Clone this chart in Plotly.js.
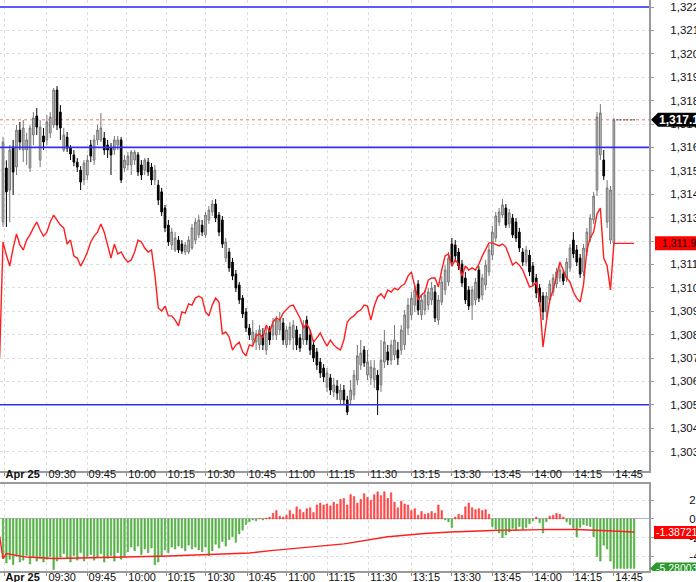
<!DOCTYPE html>
<html>
<head>
<meta charset="utf-8">
<script src="https://cdn.plot.ly/plotly-3.0.1.min.js"></script>
<style>html,body{margin:0;padding:0;background:#fff;}#chart{width:696px;height:582px;}</style>
</head>
<body>
<div id="chart"></div>
<script>
// ---- data ----
const open = [
1312.81,1315.12,1314.18,1316.02,1315.16,1316.74,1315.89,1315.89,1315.12,1316.53,
1317.34,1315.46,1316.49,1316.32,1316.62,1316.96,1318.45,1317.51,1315.89,1316.44,
1315.97,1315.68,1315.37,1315.03,1314.61,1314.82,1316.10,1315.46,1316.32,1316.32,
1316.40,1316.10,1315.97,1315.89,1316.10,1316.32,1315.12,1315.25,1315.25,1315.46,
1315.68,1315.25,1315.03,1315.37,1315.16,1314.61,1314.39,1314.10,1313.41,1312.68,
1311.83,1311.62,1312.04,1311.87,1311.53,1311.53,1311.70,1312.04,1312.26,1312.68,
1312.26,1312.90,1313.24,1313.58,1313.11,1312.90,1311.27,1311.53,1311.10,1310.59,
1310.12,1309.56,1308.97,1308.28,1307.77,1307.68,1307.56,1307.98,1307.34,1308.20,
1307.98,1307.98,1308.20,1308.50,1307.56,1307.77,1307.86,1308.20,1307.86,1307.77,
1308.62,1307.98,1307.56,1307.26,1306.83,1306.57,1305.76,1306.15,1305.55,1305.80,
1305.21,1305.63,1305.21,1305.21,1305.42,1306.06,1306.70,1307.34,1306.27,1306.15,
1306.06,1306.27,1305.85,1306.83,1307.26,1306.91,1307.13,1307.34,1307.34,1307.56,
1308.28,1308.84,1309.26,1310.16,1308.84,1309.05,1309.26,1309.48,1309.82,1308.62,
1309.39,1309.91,1310.25,1311.87,1311.83,1311.53,1311.01,1310.42,1309.91,1309.26,
1309.48,1310.76,1309.69,1310.12,1310.68,1311.40,1312.13,1312.81,1313.11,1313.41,
1312.73,1312.98,1312.81,1312.38,1311.53,1311.10,1311.40,1310.93,1310.42,1309.99,
1309.65,1308.97,1309.48,1309.82,1310.16,1310.42,1310.59,1310.42,1310.85,1312.04,
1311.62,1311.27,1310.68,1311.53,1312.13,1312.90,1314.18,1315.68,1315.46,1312.81,
1312.04,1311.91,1317.18,1317.18,1317.18,1317.18,1317.18,1317.18];
const high = [
1316.45,1315.45,1316.10,1316.32,1316.96,1317.09,1317.17,1316.62,1316.96,1317.51,
1317.68,1317.17,1316.83,1317.38,1317.51,1318.54,1318.62,1317.81,1316.83,1316.66,
1316.10,1315.89,1315.55,1315.20,1315.46,1315.68,1316.32,1316.53,1316.96,1317.47,
1316.66,1316.32,1316.19,1316.49,1316.49,1316.44,1315.68,1315.80,1315.89,1315.89,
1315.80,1315.46,1315.55,1315.55,1315.33,1315.25,1314.61,1314.27,1313.54,1312.90,
1312.56,1312.38,1312.21,1312.04,1311.96,1312.21,1312.73,1312.98,1313.11,1312.90,
1313.24,1313.50,1313.75,1313.79,1313.24,1313.07,1312.13,1311.70,1311.27,1310.76,
1310.25,1309.69,1309.14,1308.45,1308.62,1308.20,1308.41,1308.28,1308.28,1308.37,
1308.71,1308.80,1308.97,1308.71,1308.37,1308.54,1308.62,1308.37,1308.03,1308.62,
1308.80,1308.20,1307.77,1307.43,1307.00,1306.74,1306.57,1306.32,1306.15,1306.06,
1305.89,1305.85,1305.38,1306.06,1306.49,1307.56,1307.77,1307.51,1307.34,1306.91,
1306.91,1306.49,1307.77,1308.20,1307.56,1307.77,1308.41,1307.69,1308.41,1309.05,
1309.56,1309.82,1310.12,1310.33,1309.69,1309.91,1309.99,1310.25,1310.12,1309.69,
1310.50,1310.97,1311.53,1312.13,1312.04,1311.70,1311.19,1310.68,1310.08,1310.08,
1310.42,1310.93,1310.59,1311.19,1311.83,1312.64,1313.24,1313.41,1313.79,1313.58,
1313.37,1313.15,1312.98,1312.56,1311.70,1311.79,1311.62,1311.10,1310.59,1310.16,
1309.82,1309.82,1310.33,1310.59,1310.85,1311.01,1310.76,1311.27,1311.87,1312.38,
1311.83,1311.45,1311.87,1312.56,1313.15,1314.10,1317.51,1317.85,1315.89,1314.61,
1314.35,1317.26,1317.18,1317.18,1317.18,1317.18,1317.18,1317.18];
const low = [
1312.60,1312.60,1312.80,1313.97,1314.82,1315.89,1315.37,1315.25,1314.95,1316.10,
1316.53,1315.16,1315.89,1316.10,1316.40,1316.83,1316.74,1316.32,1315.80,1315.80,
1315.46,1315.20,1314.95,1314.18,1314.39,1314.61,1315.37,1315.25,1316.10,1316.23,
1315.68,1315.55,1314.82,1315.68,1315.89,1314.48,1314.95,1315.03,1314.82,1315.25,
1314.78,1314.61,1314.82,1314.78,1314.39,1314.39,1313.54,1313.07,1312.38,1311.79,
1311.62,1311.53,1311.49,1311.45,1311.40,1311.45,1311.62,1311.87,1312.13,1312.21,
1312.13,1312.73,1313.07,1312.81,1312.21,1311.70,1311.10,1310.68,1310.33,1309.82,
1309.31,1308.71,1308.11,1307.77,1307.56,1307.34,1307.34,1307.34,1307.13,1307.56,
1307.77,1307.77,1307.98,1307.56,1307.43,1307.56,1307.34,1307.34,1307.26,1307.56,
1307.56,1307.13,1306.83,1306.49,1306.15,1305.97,1305.55,1305.42,1305.33,1305.21,
1304.99,1304.99,1304.56,1304.99,1305.21,1305.85,1306.49,1306.62,1306.06,1305.85,
1305.72,1304.56,1305.55,1306.57,1306.70,1306.70,1306.91,1306.70,1307.13,1307.34,
1307.98,1308.62,1308.97,1308.84,1308.62,1308.84,1309.05,1309.26,1308.54,1308.41,
1309.26,1309.69,1310.08,1310.93,1311.10,1310.76,1310.04,1309.31,1309.05,1308.62,
1309.26,1309.39,1309.48,1309.91,1310.50,1311.19,1311.96,1312.64,1312.98,1312.56,
1312.56,1312.13,1311.96,1311.53,1310.93,1310.93,1310.50,1310.08,1309.56,1309.22,
1308.62,1308.71,1309.31,1309.65,1309.99,1310.25,1310.12,1310.25,1310.68,1311.27,
1310.93,1310.42,1310.50,1311.36,1311.96,1312.73,1313.92,1315.46,1314.61,1312.56,
1311.87,1311.79,1317.18,1317.18,1317.18,1317.18,1317.18,1317.18];
const close = [
1316.23,1314.10,1315.89,1314.95,1316.74,1316.23,1316.83,1316.32,1316.83,1317.26,
1316.87,1316.87,1316.23,1317.09,1317.30,1318.45,1316.96,1316.83,1316.53,1315.97,
1315.72,1315.37,1315.16,1314.52,1315.33,1315.46,1315.63,1316.32,1316.74,1316.83,
1315.89,1315.89,1315.68,1316.32,1316.32,1314.61,1315.46,1315.63,1315.80,1315.80,
1314.95,1314.82,1315.46,1314.95,1314.61,1315.03,1313.75,1313.24,1312.56,1311.96,
1312.38,1312.13,1311.62,1311.57,1311.83,1312.04,1312.56,1312.81,1312.90,1312.38,
1313.11,1313.32,1313.58,1312.98,1312.38,1311.87,1311.96,1310.85,1310.50,1309.99,
1309.48,1308.88,1308.28,1307.98,1308.11,1308.03,1308.20,1307.56,1308.07,1307.77,
1308.41,1308.62,1308.62,1307.77,1308.20,1308.33,1308.41,1307.56,1307.43,1308.41,
1307.77,1307.34,1307.00,1306.70,1306.36,1306.19,1306.36,1305.63,1305.85,1305.50,
1305.63,1305.21,1304.69,1305.63,1306.27,1307.09,1307.21,1306.79,1306.83,1306.62,
1306.57,1305.63,1306.91,1307.69,1306.91,1307.56,1307.77,1307.00,1308.20,1308.84,
1309.26,1309.56,1309.91,1309.05,1309.48,1309.69,1309.82,1309.99,1308.71,1309.48,
1310.25,1310.76,1311.27,1311.10,1311.36,1310.93,1310.21,1309.48,1309.22,1309.91,
1310.25,1309.56,1310.42,1310.97,1311.62,1312.38,1313.07,1313.24,1313.54,1312.68,
1313.20,1312.26,1312.13,1311.70,1311.10,1311.62,1310.68,1310.25,1309.78,1309.39,
1308.97,1309.65,1310.16,1310.42,1310.68,1310.76,1310.29,1311.10,1311.70,1311.45,
1311.10,1310.59,1311.70,1312.38,1312.98,1313.92,1317.30,1317.47,1314.78,1314.27,
1314.18,1317.17,1317.18,1317.18,1317.18,1317.18,1317.18,1317.18];
// overlay instrument (red line), previous-session value first
const redPrev = 1307.0;
const redLine = [
1311.96,1311.40,1310.93,1311.70,1312.30,1311.83,1311.62,1312.04,1312.26,1312.56,
1312.81,1312.47,1312.21,1312.38,1312.81,1313.11,1312.90,1312.68,1312.56,1311.87,
1312.04,1311.36,1311.27,1310.93,1311.19,1311.53,1311.96,1312.21,1312.38,1312.73,
1312.38,1311.83,1311.27,1311.87,1311.45,1311.53,1311.27,1311.10,1311.19,1311.53,
1312.04,1311.96,1311.70,1311.53,1311.62,1310.55,1309.14,1309.01,1309.22,1308.80,
1308.80,1308.62,1308.37,1308.97,1308.92,1309.31,1309.26,1309.56,1309.65,1309.56,
1308.97,1308.80,1309.26,1309.56,1309.39,1308.03,1308.11,1307.90,1307.34,1307.56,
1307.68,1307.26,1307.09,1307.56,1307.51,1307.94,1308.03,1307.86,1308.41,1308.11,
1308.54,1308.71,1308.62,1308.92,1309.05,1309.22,1309.26,1309.01,1308.71,1308.28,
1308.45,1308.20,1307.68,1307.86,1308.07,1307.77,1307.51,1307.77,1307.56,1307.43,
1307.34,1307.77,1308.54,1308.71,1308.80,1308.97,1309.05,1309.26,1309.22,1308.62,
1309.22,1309.61,1309.74,1309.56,1309.91,1309.82,1309.99,1309.91,1310.08,1310.16,
1310.50,1310.68,1310.12,1309.48,1309.69,1309.82,1310.33,1310.42,1310.42,1310.04,
1310.76,1311.36,1311.45,1310.93,1311.19,1311.01,1310.50,1310.93,1310.76,1310.85,
1310.76,1311.01,1311.36,1311.62,1311.92,1311.92,1311.87,1311.79,1311.87,1311.74,
1311.36,1310.97,1311.10,1310.97,1310.76,1310.42,1310.04,1310.08,1310.25,1309.48,
1307.47,1308.54,1309.48,1309.91,1310.50,1311.10,1310.76,1310.42,1310.25,1309.82,
1309.56,1309.39,1310.12,1311.62,1312.13,1312.38,1313.15,1313.41,1311.27,1310.93,
1309.91,1311.9,1311.9,1311.9,1311.9,1311.9,1311.9,1311.9];
// lower panel histogram and signal line
const histo = [
-4.2,-4.7,-4.3,-4.9,-4.0,-4.6,-4.4,-3.9,-4.8,-4.1,-4.5,-4.2,-4.6,
-4.3,-4.0,-5.4,-4.5,-4.1,-3.7,-4.2,-4.6,-3.9,-4.4,-3.6,-4.5,-4.0,
-3.8,-4.4,-4.1,-3.7,-4.6,-4.2,-3.9,-4.5,-3.6,-4.3,-4.0,-3.5,
-3.0,-3.4,-2.9,-3.8,-3.2,-3.6,-3.1,-4.9,-4.6,-3.9,-3.3,-3.6,
-3.0,-3.2,-2.9,-3.1,-3.4,-2.8,-3.2,-3.0,-3.3,-3.5,-3.0,
-3.9,-3.4,-2.7,-3.1,-2.4,-2.9,-2.2,
-1.9,-2.5,-1.6,-1.2,-0.6,
-0.3,-0.1,-0.2,0.05,-0.1,0.1,
0.2,0.6,0.9,0.3,0.2,0.4,0.9,0.5,1.3,1.0,0.7,1.1,1.2,0.7,1.5,1.7,1.5,1.6,1.4,1.8,1.6,2.1,2.2,1.5,2.6,
2.4,1.7,2.1,2.7,2.3,2.0,2.6,2.9,2.5,2.9,2.2,2.8,1.8,1.2,1.9,1.6,
1.5,0.9,1.1,0.4,0.8,0.5,0.6,0.8,0.6,1.5,0.9,-0.1,-0.3,-0.9,
0.2,0.5,0.4,1.3,1.7,1.2,1.0,1.1,0.9,1.0,0.5,
-0.8,-1.1,-1.5,-2.0,-1.7,-1.4,-1.0,-1.2,-0.8,-1.1,-0.9,-0.5,
-0.2,0.2,-0.4,-1.5,-0.3,0.3,0.4,0.6,0.5,0.2,-0.3,-0.6,-1.0,-1.9,-0.9,-0.6,
-0.7,-0.8,-1.9,-4.0,-4.5,-2.8,-3.2,-4.5,-5.28003,
-5.28003,-5.28003,-5.28003,-5.28003,-5.28003,-5.28003];
const signalPrev = -1.82;
const signal = [
-4.25,-3.70,-3.78,-3.85,-3.92,-3.98,-4.03,-4.07,-4.10,-4.13,
-4.15,-4.17,-4.19,-4.21,-4.22,-4.23,-4.23,-4.22,-4.22,-4.21,
-4.20,-4.19,-4.18,-4.17,-4.16,-4.15,-4.14,-4.13,-4.13,-4.12,
-4.12,-4.11,-4.11,-4.10,-4.09,-4.09,-4.08,-4.07,-4.07,-4.06,
-4.05,-4.04,-4.03,-4.02,-4.01,-4.00,-3.99,-3.98,-3.97,-3.96,
-3.95,-3.94,-3.93,-3.92,-3.91,-3.90,-3.88,-3.87,-3.85,-3.84,
-3.83,-3.82,-3.81,-3.80,-3.79,-3.78,-3.77,-3.76,-3.74,-3.72,
-3.70,-3.68,-3.66,-3.64,-3.60,-3.55,-3.51,-3.46,-3.42,-3.39,
-3.36,-3.33,-3.30,-3.27,-3.23,-3.20,-3.17,-3.14,-3.10,-3.07,
-3.04,-3.00,-2.97,-2.94,-2.91,-2.88,-2.85,-2.82,-2.78,-2.74,
-2.70,-2.66,-2.61,-2.55,-2.47,-2.40,-2.33,-2.25,-2.19,-2.14,
-2.09,-2.03,-1.98,-1.94,-1.90,-1.87,-1.83,-1.80,-1.76,-1.73,
-1.70,-1.67,-1.64,-1.61,-1.58,-1.56,-1.53,-1.50,-1.48,-1.46,
-1.44,-1.42,-1.40,-1.39,-1.37,-1.36,-1.34,-1.33,-1.31,-1.30,
-1.29,-1.27,-1.26,-1.25,-1.23,-1.23,-1.22,-1.22,-1.21,-1.20,
-1.20,-1.19,-1.19,-1.18,-1.18,-1.17,-1.16,-1.16,-1.15,-1.14,
-1.14,-1.13,-1.12,-1.12,-1.12,-1.12,-1.12,-1.12,-1.12,-1.12,
-1.13,-1.14,-1.15,-1.16,-1.18,-1.19,-1.21,-1.23,-1.24,-1.25,
-1.27,-1.28,-1.30,-1.32,-1.34,-1.36,-1.37,-1.38721];
const tickLabels = ['<b>Apr 25</b>','09:30','09:45','10:00','10:15','10:30','10:45','11:00','11:15','11:30','13:15','13:30','13:45','14:00','14:15','14:45'];
const tickBars = [0.3,13,24.9,36.7,48.3,60.1,72.3,84.1,96,108.4,120.9,133,144.9,157,168.9,181];
const lowerTickVals = [-4,-2,0,2];
const lowerTickText = ['-4','-2','0','2'];
const levels = [1322, 1316, 1305];
const lastPrice = close[close.length-1];
const lastRed = redLine[redLine.length-1];
const lastSignal = signal[signal.length-1];
const lastHisto = histo[histo.length-1];

// ---- build ----
const idx = close.map((_, i) => i);
const lineIdx = [-1].concat(idx);
const FONT = 'Arial, "Liberation Sans", sans-serif';
const GRID = '#dedede';
const AXL = '#9a9a9a';

const traces = [
  {type:'candlestick', x:idx, open:open, high:high, low:low, close:close,
   xaxis:'x', yaxis:'y', whiskerwidth:0,
   increasing:{line:{color:'#767676', width:1}, fillcolor:'#c8c8c8'},
   decreasing:{line:{color:'#000000', width:1}, fillcolor:'#000000'},
   hoverinfo:'skip'},
  {type:'scatter', mode:'lines', x:lineIdx, y:[redPrev].concat(redLine),
   xaxis:'x', yaxis:'y', line:{color:'#ff1e1e', width:1.4}, hoverinfo:'skip'},
  {type:'bar', x:idx, y:histo, xaxis:'x2', yaxis:'y2', width:0.45,
   marker:{color:histo.map(v => v >= 0 ? '#ff5050' : '#5cbc4a'),
           line:{color:histo.map(v => v >= 0 ? '#ff2a2a' : '#3c9e30'), width:0.5}},
   hoverinfo:'skip'},
  {type:'scatter', mode:'lines', x:lineIdx, y:[signalPrev].concat(signal),
   xaxis:'x2', yaxis:'y2', line:{color:'#ff1e1e', width:1.4}, hoverinfo:'skip'}
];

const xCommon = {
  range:[-0.89, 191.41], tickmode:'array', tickvals:tickBars, ticktext:tickLabels,
  ticklabelposition:'outside right', ticks:'outside', ticklen:3, tickwidth:1, tickcolor:'#8a8a8a',
  showgrid:true, gridcolor:GRID, griddash:'dot',
  gridwidth:1, zeroline:false, showline:true, linecolor:AXL, linewidth:2,
  tickfont:{family:FONT, size:11, color:'#111'}, fixedrange:true
};

const shapes = [];
levels.forEach((lv, k) => {
  shapes.push({type:'line', xref:'paper', x0:0, x1:1, yref:'y', y0:lv, y1:lv,
    line:{color: k === 0 ? '#5a5aff' : '#3030ee', width: k === 0 ? 2.2 : 1.6}, layer:'above'});
});
shapes.push({type:'line', xref:'paper', x0:0, x1:1, yref:'y', y0:lastPrice, y1:lastPrice,
  line:{color:'#ff6b6b', width:1, dash:'dot'}, layer:'between'});
shapes.push({type:'path', xref:'paper', xsizemode:'pixel', xanchor:1, yref:'y', ysizemode:'pixel', yanchor:lastPrice,
  path:'M 2 0 L 9 7 L 60 7 L 60 -7 L 9 -7 Z', fillcolor:'#000000', line:{width:0}, layer:'above'});
shapes.push({type:'rect', xref:'paper', xsizemode:'pixel', xanchor:1, x0:6, x1:60, yref:'y', ysizemode:'pixel', yanchor:lastRed,
  y0:-7, y1:7, fillcolor:'#ff0000', line:{width:0}, layer:'above'});
shapes.push({type:'rect', xref:'paper', xsizemode:'pixel', xanchor:1, x0:5, x1:60, yref:'y2', ysizemode:'pixel', yanchor:lastSignal,
  y0:-7, y1:6, fillcolor:'#ff0000', line:{width:0}, layer:'above'});
shapes.push({type:'path', xref:'paper', xsizemode:'pixel', xanchor:1, yref:'y2', ysizemode:'pixel', yanchor:lastHisto,
  path:'M 1 0 L 7 6 L 60 6 L 60 -6 L 7 -6 Z', fillcolor:'#2b9a2b', line:{width:0}, layer:'above'});

const fmt = (v, d) => v.toLocaleString('en-US', {minimumFractionDigits:d, maximumFractionDigits:d});
const annotations = [
  {xref:'paper', x:1, xanchor:'left', xshift:8, yref:'y', y:lastPrice, yanchor:'middle', showarrow:false,
   text:'<b>' + fmt(lastPrice, 2) + '</b>', font:{family:FONT, size:12, color:'#ffffff'}},
  {xref:'paper', x:1, xanchor:'left', xshift:11, yref:'y', y:lastRed, yanchor:'middle', showarrow:false,
   text:fmt(lastRed, 1), font:{family:FONT, size:10.5, color:'#000000'}},
  {xref:'paper', x:1, xanchor:'left', xshift:5, yref:'y2', y:lastSignal, yanchor:'middle', showarrow:false,
   text:lastSignal.toFixed(5), font:{family:FONT, size:10.5, color:'#ffffff'}},
  {xref:'paper', x:1, xanchor:'left', xshift:5, yref:'y2', y:lastHisto, yanchor:'middle', showarrow:false,
   text:lastHisto.toFixed(5), font:{family:FONT, size:10.5, color:'#ffffff'}}
];

const layout = {
  width:696, height:582, margin:{l:0, r:47, t:0, b:11},
  paper_bgcolor:'#ffffff', plot_bgcolor:'#ffffff', showlegend:false, hovermode:false,
  font:{family:FONT, size:11, color:'#111'},
  xaxis: Object.assign({}, xCommon, {anchor:'y', domain:[0,1], rangeslider:{visible:false}, ticklabelstandoff:-8}),
  xaxis2: Object.assign({}, xCommon, {anchor:'y2', domain:[0,1], matches:'x', mirror:true, ticklabelstandoff:-5}),
  yaxis: {domain:[0.1751, 1], anchor:'x', side:'right', range:[1302.17, 1322.30],
    tickmode:'linear', tick0:1300, dtick:1, tickformat:',.0f',
    showgrid:true, gridcolor:GRID, griddash:'dot', zeroline:false,
    showline:true, linecolor:AXL, linewidth:2, ticks:'outside', ticklen:3, tickcolor:AXL,
    ticklabelstandoff:14, tickfont:{family:FONT, size:11.5, color:'#111'}, fixedrange:true},
  yaxis2: {domain:[0, 0.1524], anchor:'x2', side:'right', range:[-5.56, 3.74],
    tickmode:'array', tickvals:lowerTickVals, ticktext:lowerTickText,
    showgrid:true, gridcolor:GRID, griddash:'dot',
    zeroline:true, zerolinecolor:'#b5b5b5', zerolinewidth:1,
    showline:true, linecolor:AXL, linewidth:2, ticks:'outside', ticklen:3, tickcolor:AXL,
    ticklabelstandoff:33, tickfont:{family:FONT, size:11.5, color:'#111'}, fixedrange:true},
  shapes: shapes,
  annotations: annotations
};

Plotly.newPlot('chart', traces, layout, {staticPlot:true, displayModeBar:false});
</script>
</body>
</html>
